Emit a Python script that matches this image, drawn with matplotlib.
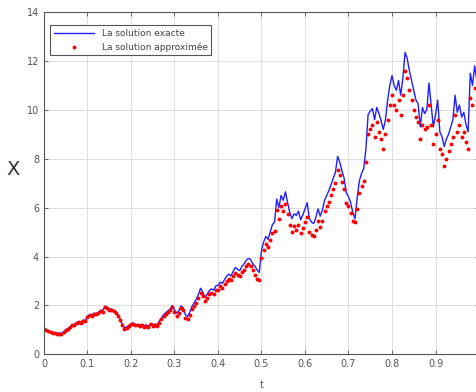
import numpy as np
import matplotlib.pyplot as plt

# time grid, step 0.005 on [0, 1]
t = np.linspace(0, 1, 201)

# exact path
x_exact = [
    1.05, 1.00, 0.95, 0.93, 0.90, 0.88, 0.86, 0.87, 0.85, 0.92,
    1.00, 1.05, 1.12, 1.20, 1.22, 1.30, 1.34, 1.32, 1.40, 1.38,
    1.55, 1.62, 1.60, 1.68, 1.66, 1.72, 1.80, 1.78, 1.96, 1.92,
    1.84, 1.86, 1.80, 1.74, 1.62, 1.45, 1.22, 1.08, 1.12, 1.18,
    1.24, 1.28, 1.22, 1.20, 1.18, 1.22, 1.16, 1.20, 1.14, 1.26,
    1.18, 1.24, 1.20, 1.35, 1.48, 1.62, 1.70, 1.78, 1.85, 2.00,
    1.82, 1.68, 1.78, 1.98, 1.90, 1.62, 1.55, 1.72, 1.95, 2.10,
    2.25, 2.45, 2.70, 2.55, 2.32, 2.45, 2.60, 2.68, 2.62, 2.80,
    2.82, 2.95, 2.90, 3.05, 3.20, 3.28, 3.20, 3.40, 3.55, 3.48,
    3.42, 3.60, 3.70, 3.85, 3.92, 3.88, 3.70, 3.60, 3.45, 3.35,
    4.25, 4.60, 4.82, 4.70, 5.00, 5.30, 5.40, 6.35, 6.00, 6.50,
    6.30, 6.65, 6.20, 5.80, 5.55, 5.75, 5.68, 5.85, 5.50, 5.70,
    5.95, 6.20, 5.55, 5.40, 5.35, 5.60, 5.95, 5.65, 5.90, 6.30,
    6.50, 6.70, 6.95, 7.20, 7.45, 8.10, 7.85, 7.50, 7.20, 6.60,
    6.45, 6.20, 5.80, 5.55, 6.40, 7.10, 7.40, 7.60, 8.40, 9.80,
    9.95, 10.05, 9.60, 10.10, 9.85, 9.55, 9.20, 9.60, 10.40, 11.00,
    11.40, 11.00, 10.80, 11.20, 10.60, 11.30, 12.35, 12.10, 11.60, 11.20,
    10.80, 10.40, 10.25, 9.30, 10.10, 9.85, 10.00, 11.10, 10.20, 9.30,
    9.80, 10.40, 9.10, 8.90, 8.50, 8.80, 9.00, 9.30, 9.60, 10.60,
    9.90, 10.20, 9.70, 9.90, 9.40, 9.10, 11.50, 11.00, 11.80, 11.20,
    11.60,
]

# numerical scheme
x_approx = [
    1.03, 0.98, 0.94, 0.91, 0.89, 0.86, 0.85, 0.85, 0.84, 0.90,
    0.98, 1.03, 1.10, 1.18, 1.21, 1.28, 1.32, 1.30, 1.38, 1.36,
    1.52, 1.60, 1.58, 1.65, 1.63, 1.70, 1.76, 1.75, 1.92, 1.88,
    1.80, 1.80, 1.76, 1.70, 1.58, 1.42, 1.18, 1.05, 1.08, 1.15,
    1.22, 1.25, 1.20, 1.18, 1.15, 1.18, 1.12, 1.16, 1.10, 1.22,
    1.14, 1.20, 1.17, 1.30, 1.44, 1.58, 1.65, 1.72, 1.80, 1.92,
    1.72, 1.58, 1.70, 1.88, 1.80, 1.50, 1.45, 1.62, 1.85, 1.98,
    2.10, 2.30, 2.52, 2.40, 2.18, 2.30, 2.45, 2.50, 2.48, 2.62,
    2.65, 2.78, 2.72, 2.88, 3.00, 3.08, 3.02, 3.20, 3.32, 3.25,
    3.20, 3.35, 3.45, 3.60, 3.68, 3.62, 3.45, 3.25, 3.10, 3.05,
    3.95, 4.25, 4.50, 4.40, 4.68, 4.95, 5.05, 5.90, 5.55, 6.05,
    5.85, 6.15, 5.75, 5.30, 5.00, 5.25, 5.10, 5.30, 4.95, 5.15,
    5.40, 5.60, 5.00, 4.90, 4.85, 5.10, 5.45, 5.20, 5.45, 5.85,
    6.05, 6.25, 6.50, 6.75, 7.00, 7.55, 7.35, 7.05, 6.75, 6.20,
    6.05, 5.80, 5.45, 5.40, 5.95, 6.60, 6.90, 7.10, 7.85, 9.00,
    9.20, 9.40, 8.90, 9.50, 9.10, 8.80, 8.40, 9.00, 9.60, 10.20,
    10.60, 10.20, 10.00, 10.40, 9.80, 10.60, 11.60, 11.30, 10.80, 10.40,
    10.00, 9.70, 9.50, 8.80, 9.40, 9.20, 9.30, 10.20, 9.40, 8.60,
    9.00, 9.60, 8.40, 8.20, 7.70, 8.00, 8.30, 8.60, 8.90, 9.80,
    9.10, 9.40, 8.90, 9.10, 8.70, 8.40, 10.50, 10.20, 10.90, 10.40,
    10.80,
]

xticks = np.arange(0, 1.01, 0.1)
xtick_labels = ['0', '0.1', '0.2', '0.3', '0.4', '0.5', '0.6', '0.7', '0.8', '0.9', '1']
yticks = np.arange(0, 15, 2)

fig = plt.figure(figsize=(4.77, 3.92), dpi=100)
ax = fig.add_axes([0.0922, 0.0962, 0.912, 0.873])

ax.plot(t, x_exact, color='#1f1fff', linewidth=1.0, label='La solution exacte')
ax.plot(t, x_approx, '.', color='red', markersize=3.6, label='La solution approximée')

ax.set_xlim(0, 1)
ax.set_ylim(0, 14)
ax.set_xticks(xticks)
ax.set_xticklabels(xtick_labels)
ax.set_yticks(yticks)
ax.grid(True, color='#dedede', linewidth=0.7)
ax.set_axisbelow(True)
ax.tick_params(direction='in', labelsize=7, colors='#555555', top=True, right=True,
               length=3, width=0.6)
for s in ax.spines.values():
    s.set_color('#555555')
    s.set_linewidth(0.8)

ax.set_xlabel('t', fontsize=7, color='#555555', labelpad=8)
ax.set_ylabel('X', fontsize=14, color='#333333', rotation=0, va='center')
ax.yaxis.set_label_coords(-0.072, 0.541)

leg = ax.legend(loc='upper left', bbox_to_anchor=(0.014, 0.962), borderaxespad=0,
                fontsize=6.5, fancybox=False, handlelength=4.5, framealpha=1,
                labelcolor='#444444')
leg.get_frame().set_edgecolor('#555555')
leg.get_frame().set_linewidth(0.8)

fig.savefig('out.png', dpi=100)
